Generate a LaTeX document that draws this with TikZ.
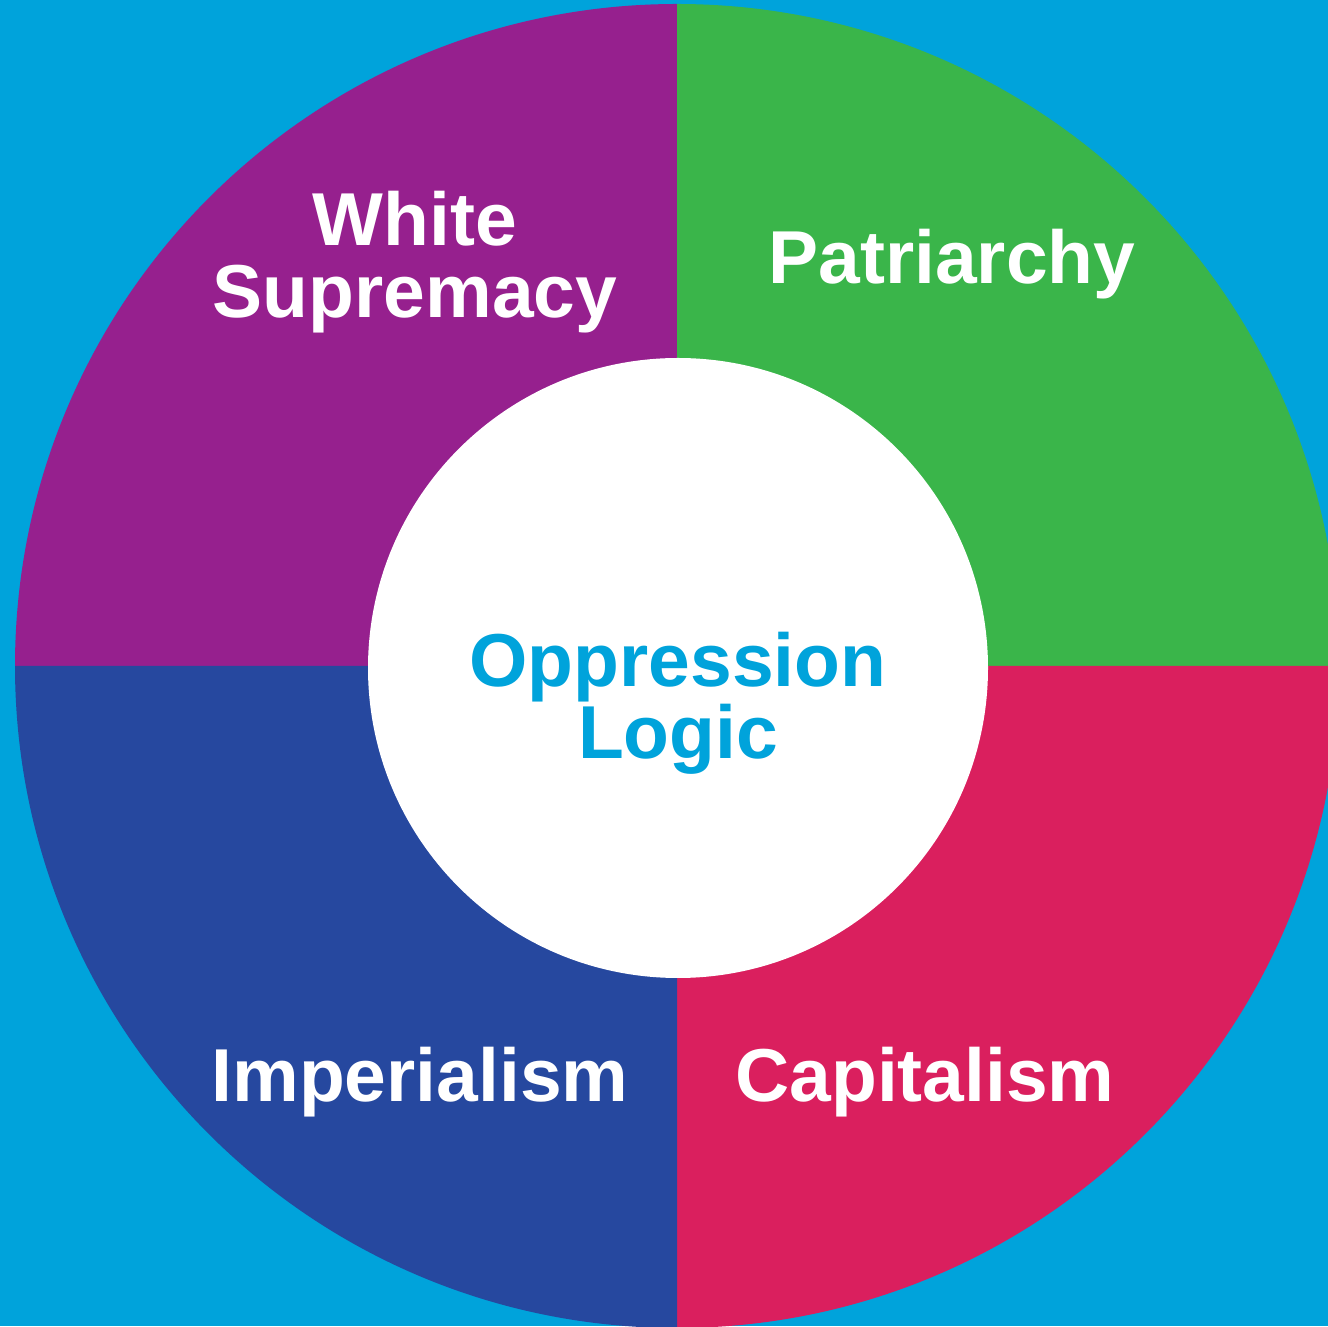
\documentclass[tikz,border=0pt]{standalone}
\usepackage{fontspec}
\setmainfont{Liberation Sans}
\definecolor{bgblue}{HTML}{00A3DB}
\definecolor{wpurple}{HTML}{96208E}
\definecolor{pgreen}{HTML}{3AB54A}
\definecolor{cred}{HTML}{DA1F5E}
\definecolor{iblue}{HTML}{26489F}
\tikzset{
  lbl/.style={text=white, font=\fontsize{75}{72}\selectfont\bfseries, inner sep=0pt, align=center},
  ctr/.style={text=bgblue, font=\fontsize{75}{72}\selectfont\bfseries, inner sep=0pt, align=center}
}
\begin{document}
\begin{tikzpicture}[x=1pt,y=1pt]
\useasboundingbox (0,0) rectangle (1328,1326);
\fill[bgblue] (0,0) rectangle (1328,1326);
\begin{scope}
\clip (0,0) rectangle (1328,1326);
\coordinate (C) at (677,660);
\fill[wpurple] (C) -- ++(90:662) arc[start angle=90,end angle=180,radius=662] -- cycle;
\fill[pgreen] (C) -- ++(0:662) arc[start angle=0,end angle=90,radius=662] -- cycle;
\fill[cred] (C) -- ++(270:662) arc[start angle=270,end angle=360,radius=662] -- cycle;
\fill[iblue] (C) -- ++(180:662) arc[start angle=180,end angle=270,radius=662] -- cycle;
\end{scope}
\fill[white] (678,658) circle[radius=310];
\node[lbl] (ws) at (415,1064) {White\\Supremacy};
\node[lbl, anchor=base] (pa) at (952,1042) {Patriarchy};
\node[lbl, anchor=base] (im) at (420,224) {Imperialism};
\node[lbl, anchor=base] (ca) at (925,224) {Capitalism};
\node[ctr] (ol) at (678,623) {Oppression\\Logic};
\end{tikzpicture}
\end{document}
